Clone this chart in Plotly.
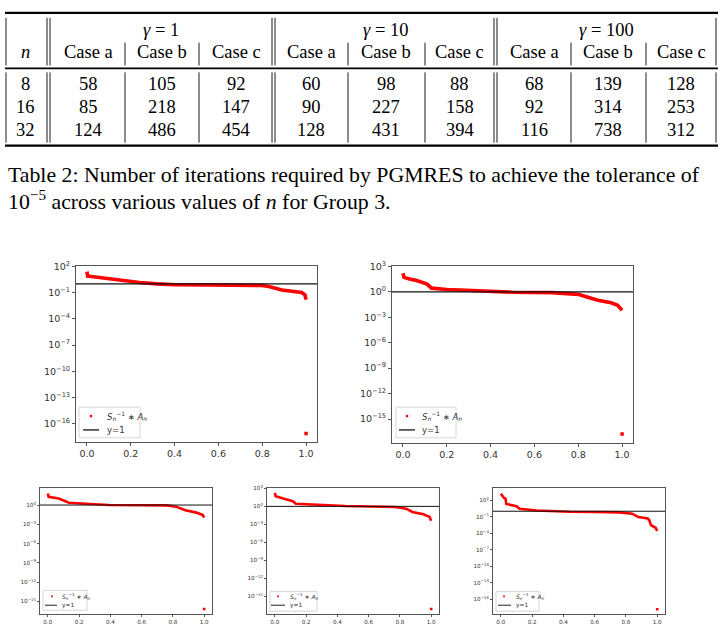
import plotly.graph_objects as go

W, H = 723, 629

# ---------------- table data ----------------
gammas = ["<i>γ</i> = 1", "<i>γ</i> = 10", "<i>γ</i> = 100"]
cases = ["Case a", "Case b", "Case c"]
n_vals = ["8", "16", "32"]
iters = [
    [58, 105, 92, 60, 98, 88, 68, 139, 128],
    [85, 218, 147, 90, 227, 158, 92, 314, 253],
    [124, 486, 454, 128, 431, 394, 116, 738, 312],
]
caption_1 = "Table 2: Number of iterations required by PGMRES to achieve the tolerance of"
caption_2 = "10<sup>−5</sup> across various values of <i>n</i> for Group 3."

# ---------------- chart data (x, log10 of value) ----------------
c1_x = [0.0, 0.003, 0.02, 0.09, 0.165, 0.24, 0.32, 0.40, 0.55, 0.70, 0.80, 0.83, 0.855, 0.89, 0.935, 0.98, 0.995, 1.0]
c1_e = [1.4, 0.9, 0.85, 0.64, 0.34, 0.15, 0.0, -0.1, -0.12, -0.12, -0.18, -0.3, -0.5, -0.7, -0.85, -0.98, -1.25, -1.8]
c2_x = [0.0, 0.005, 0.03, 0.063, 0.11, 0.12, 0.13, 0.2, 0.29, 0.37, 0.5, 0.68, 0.8, 0.84, 0.89, 0.95, 0.98, 1.0]
c2_e = [2.18, 1.7, 1.5, 1.32, 0.9, 0.6, 0.43, 0.27, 0.16, 0.02, -0.05, -0.1, -0.3, -0.62, -1.0, -1.3, -1.6, -2.18]
c3_x = [0.0, 0.005, 0.07, 0.114, 0.135, 0.24, 0.39, 0.6, 0.76, 0.82, 0.88, 0.95, 0.99, 1.0]
c3_e = [1.8, 1.28, 1.03, 0.6, 0.36, 0.2, 0.0, -0.03, -0.05, -0.25, -0.8, -1.18, -1.54, -1.95]
c4_x = [0.0, 0.005, 0.06, 0.115, 0.135, 0.25, 0.45, 0.6, 0.77, 0.84, 0.88, 0.95, 0.99, 1.0]
c4_e = [2.24, 1.7, 1.26, 0.87, 0.44, 0.27, 0.05, -0.02, -0.1, -0.38, -0.93, -1.31, -1.75, -2.4]
c5_x = [0.0, 0.01, 0.02, 0.03, 0.035, 0.1, 0.12, 0.23, 0.44, 0.6, 0.76, 0.84, 0.88, 0.94, 0.95, 0.96, 0.975, 0.99, 1.0]
c5_e = [3.2, 2.72, 2.41, 2.3, 1.33, 0.92, 0.44, 0.15, -0.1, -0.15, -0.2, -0.45, -1.06, -1.3, -1.66, -2.5, -2.74, -3.0, -3.6]
outlier_x = [1.0, 1.0, 1.0, 1.0, 1.0]
outlier_e = [-17.1, -16.75, -16.2, -17.1, -17.8]
ytick_exps = [
    [2, -1, -4, -7, -10, -13, -16],
    [3, 0, -3, -6, -9, -12, -15],
    [0, -3, -6, -9, -12, -15],
    [3, 0, -3, -6, -9, -12, -15],
    [2, -1, -4, -7, -10, -13, -16],
]
xticks = [0.0, 0.2, 0.4, 0.6, 0.8, 1.0]
series_label = "<i>S</i><sub><i>n</i></sub><sup>−1</sup> ∗ <i>A</i><sub><i>n</i></sub>"
line_label = "y=1"

curves = [(c1_x, c1_e), (c2_x, c2_e), (c3_x, c3_e), (c4_x, c4_e), (c5_x, c5_e)]


def PX(p):
    return p / W


def PY(p):
    return 1 - p / H


# layout geometry (pixels)
boxes = [  # left, right, top, bottom
    (76, 317, 262, 440),
    (392, 633, 262, 441),
    (40, 212, 487, 614),
    (267, 439, 487, 614),
    (493, 665, 487, 614),
]
yranges = [(-18.05, 2.1), (-17.8, 3.1), (-17.0, 2.6), (-17.95, 3.0), (-18.7, 4.16)]
fsizes = [9.5, 9.5, 5.6, 5.6, 5.6]
legends = [  # box l, r, t, b, marker x,y, line x0,x1,y, text x, font
    (79, 140, 405, 436, 91, 414, 83, 99, 428, 105, 8.5),
    (396, 456, 405, 436, 407, 414, 399, 415, 428, 420, 8.5),
    (43, 87, 590, 610, 52, 596, 45, 57, 605, 60, 6),
    (270, 317, 591, 611, 278, 596, 271, 285, 605, 288, 6),
    (496, 539, 591, 611, 504, 596, 498, 511, 605, 514, 6),
]

fig = go.Figure()
shapes = []
annotations = []
layout = {}
FRAME = "#555555"
TXT = "#333333"

for i, ((cx, ce), box, yr, fs, yt) in enumerate(zip(curves, boxes, yranges, fsizes, ytick_exps)):
    k = "" if i == 0 else str(i + 1)
    l, r, t, b = box
    big = fs > 7
    fig.add_trace(go.Scatter(
        x=cx, y=[10 ** e for e in ce], mode="lines",
        line=dict(color="#ff0000", width=3.6 if big else 2.6),
        xaxis="x" + k, yaxis="y" + k, showlegend=False, hoverinfo="skip"))
    fig.add_trace(go.Scatter(
        x=[outlier_x[i]], y=[10 ** outlier_e[i]], mode="markers",
        marker=dict(color="#ff0000", size=3.5 if big else 2.6, symbol="square"),
        xaxis="x" + k, yaxis="y" + k, showlegend=False, hoverinfo="skip"))
    layout["xaxis" + k] = dict(
        domain=[PX(l), PX(r)], anchor="y" + k, range=[-0.05, 1.05],
        tickvals=xticks, ticktext=["%.1f" % v for v in xticks],
        showline=True, mirror=True, linecolor=FRAME, linewidth=1,
        ticks="outside", ticklen=3 if big else 2, tickcolor=FRAME,
        showgrid=False, zeroline=False,
        tickfont=dict(family="DejaVu Sans", size=fs, color=TXT))
    layout["yaxis" + k] = dict(
        domain=[PY(b), PY(t)], anchor="x" + k, type="log", range=list(yr),
        tickvals=[10 ** e for e in yt],
        ticktext=["10<sup>%s</sup>" % (str(e).replace("-", "−")) for e in yt],
        showline=True, mirror=True, linecolor=FRAME, linewidth=1,
        ticks="outside", ticklen=3 if big else 2, tickcolor=FRAME,
        showgrid=False, zeroline=False,
        tickfont=dict(family="DejaVu Sans", size=fs, color=TXT))
    # y = 1 reference line
    shapes.append(dict(type="line", xref="x%s domain" % k, yref="y" + k,
                       x0=0, x1=1, y0=1, y1=1, layer="above",
                       line=dict(color="#111111", width=1.3 if big else 1.0)))
    # legend (drawn manually)
    bl, br, bt, bb, mx, my, lx0, lx1, ly, tx, lf = legends[i]
    shapes.append(dict(type="rect", xref="paper", yref="paper",
                       x0=PX(bl), x1=PX(br), y0=PY(bb), y1=PY(bt), layer="above",
                       fillcolor="rgba(255,255,255,0.85)", line=dict(color="#d6d6d6", width=1)))
    ms = 1.2 if big else 0.9
    shapes.append(dict(type="rect", xref="paper", yref="paper",
                       x0=PX(mx - ms), x1=PX(mx + ms), y0=PY(my + ms), y1=PY(my - ms), layer="above",
                       fillcolor="#ff0000", line=dict(width=0)))
    shapes.append(dict(type="line", xref="paper", yref="paper",
                       x0=PX(lx0), x1=PX(lx1), y0=PY(ly), y1=PY(ly), layer="above",
                       line=dict(color="#333333", width=1.5 if big else 1.1)))
    annotations.append(dict(xref="paper", yref="paper", x=PX(tx), y=PY(my), text=series_label,
                            showarrow=False, xanchor="left", yanchor="middle",
                            font=dict(family="DejaVu Sans", size=lf, color=TXT)))
    annotations.append(dict(xref="paper", yref="paper", x=PX(tx), y=PY(ly), text=line_label,
                            showarrow=False, xanchor="left", yanchor="middle",
                            font=dict(family="DejaVu Sans", size=lf, color=TXT)))

# ---------------- table ----------------
SERIF = "Liberation Serif"
TFS = 18.5


def hline(y, w):
    shapes.append(dict(type="line", xref="paper", yref="paper", x0=PX(5), x1=PX(718),
                       y0=PY(y), y1=PY(y), line=dict(color="black", width=w)))


def vline(x, y0, y1):
    shapes.append(dict(type="line", xref="paper", yref="paper", x0=PX(x), x1=PX(x),
                       y0=PY(y0), y1=PY(y1), line=dict(color="black", width=0.9)))


hline(7, 2.2)
hline(63, 1.6)
hline(141, 2.2)
outer = [6, 47, 50, 272, 275, 494, 497, 716]
inner = [125, 199, 348, 425, 571, 646]
for x in outer:
    vline(x, 12, 60)
for x in inner:
    vline(x, 37, 60)
for x in outer + inner:
    vline(x, 67, 138)

gamma_cx = [161, 385, 606]
case_cx = [88, 162, 236, 311, 386, 460, 534, 608, 681]
row_y = [79, 102, 125]


def txt(x, y, s, anchor="center", size=TFS):
    annotations.append(dict(xref="paper", yref="paper", x=PX(x), y=PY(y), text=s,
                            showarrow=False, xanchor=anchor, yanchor="middle",
                            font=dict(family=SERIF, size=size, color="black")))


for g, cx in zip(gammas, gamma_cx):
    txt(cx, 24, g)
txt(25, 46, "<i>n</i>")
for j, cx in enumerate(case_cx):
    txt(cx, 46, cases[j % 3])
for r, (nv, row) in enumerate(zip(n_vals, iters)):
    txt(25, row_y[r], nv)
    for j, v in enumerate(row):
        txt(case_cx[j], row_y[r], str(v))

txt(6, 171, caption_1, anchor="left", size=21.8)
txt(6, 196, caption_2, anchor="left", size=21.8)

fig.update_layout(
    width=W, height=H, margin=dict(l=0, r=0, t=0, b=0),
    paper_bgcolor="white", plot_bgcolor="white",
    shapes=shapes, annotations=annotations, showlegend=False,
    **layout)

fig.write_html("out.html")
